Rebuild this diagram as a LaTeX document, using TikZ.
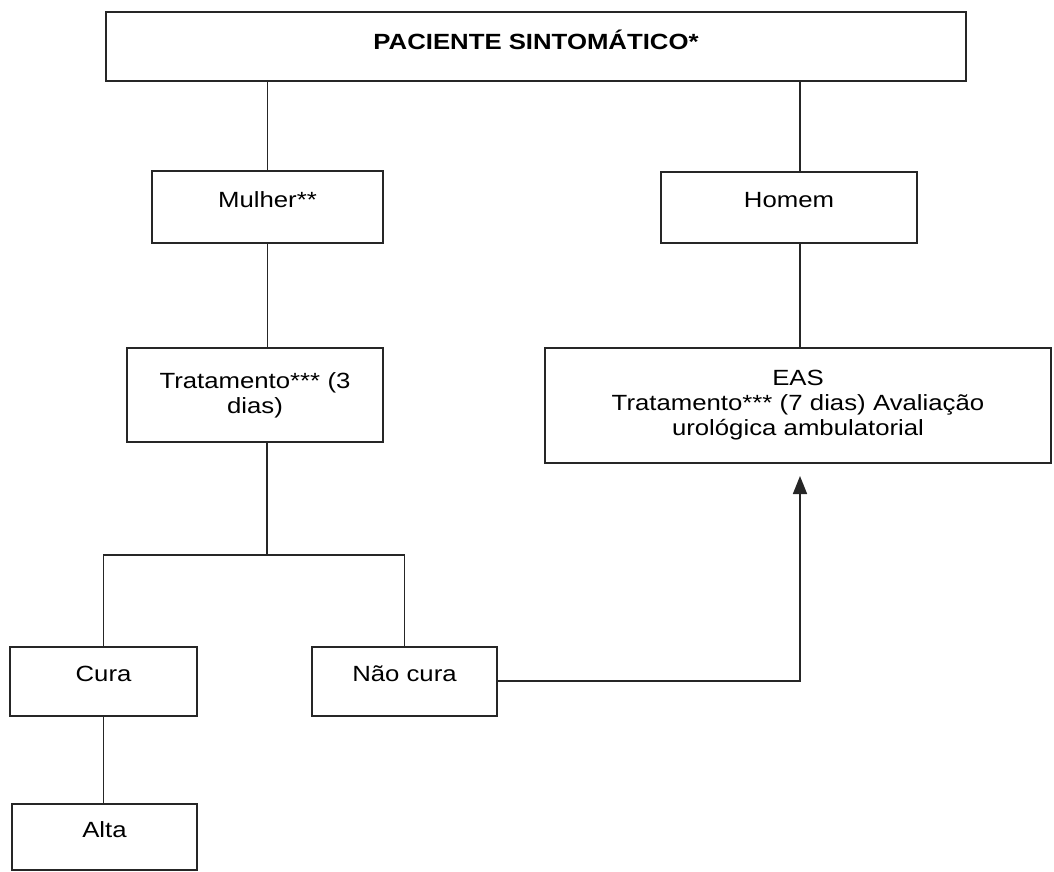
\documentclass[tikz,border=0pt]{standalone}
\usepackage{fontspec}
\setmainfont{Liberation Sans}[FakeStretch=1.17]
\usetikzlibrary{arrows.meta}
\begin{document}
\begin{tikzpicture}[x=1pt,y=-1pt,
  font=\fontsize{22}{25}\selectfont,
  box/.style={draw=black!85, line width=2pt, inner sep=0pt, outer sep=0pt,
    align=center},
  oneline/.style={text height=16pt, text depth=16pt},
  link/.style={draw=black!85, line width=1.7pt},
  arrowlink/.style={link, -{Triangle[length=18pt,width=14pt]}}]
\useasboundingbox (0,0) rectangle (1054,871);

% boxes
\node[box, minimum width=860pt, minimum height=69pt, text height=16pt, text depth=10pt,
  font=\fontsize{22}{25}\selectfont\bfseries]
  (top) at (536,46.5) {PACIENTE SINTOMÁTICO*};
\node[box, oneline, minimum width=231pt, minimum height=72pt] (mulher) at (267.5,207) {Mulher**};
\node[box, oneline, minimum width=256pt, minimum height=71pt] (homem) at (789,207.5) {Homem};
\node[box, minimum width=256pt, minimum height=94pt, text width=250pt] (trat) at (255,395)
  {Tratamento*** (3\\dias)};
\node[box, minimum width=506pt, minimum height=115pt, text width=500pt] (eas) at (798,405.5)
  {EAS\\Tratamento*** (7 dias) Avaliação\\urológica ambulatorial};
\node[box, oneline, minimum width=187pt, minimum height=69pt] (cura) at (103.5,681.5) {Cura};
\node[box, oneline, minimum width=185pt, minimum height=69pt] (nao) at (404.5,681.5) {Não cura};
\node[box, oneline, minimum width=185pt, minimum height=66pt] (alta) at (104.5,837) {Alta};

% connectors
\coordinate (split) at (267,555);
\coordinate (bend) at (800,681);
\coordinate (tip) at (800,476);

\draw[link] (top.south -| mulher.north) -- (mulher.north);
\draw[link] (top.south -| bend) -- (homem.north -| bend);
\draw[link] (mulher.south) -- (trat.north -| mulher.south);
\draw[link] (homem.south -| bend) -- (eas.north -| bend);
\draw[link] (trat.south -| split) -- (split);
\draw[link] (cura.north) |- (split) -| (nao.north);
\draw[link] (cura.south) -- (alta.north -| cura.south);
\draw[arrowlink] (nao.east |- bend) -- (bend) -- (tip);
\end{tikzpicture}
\end{document}
